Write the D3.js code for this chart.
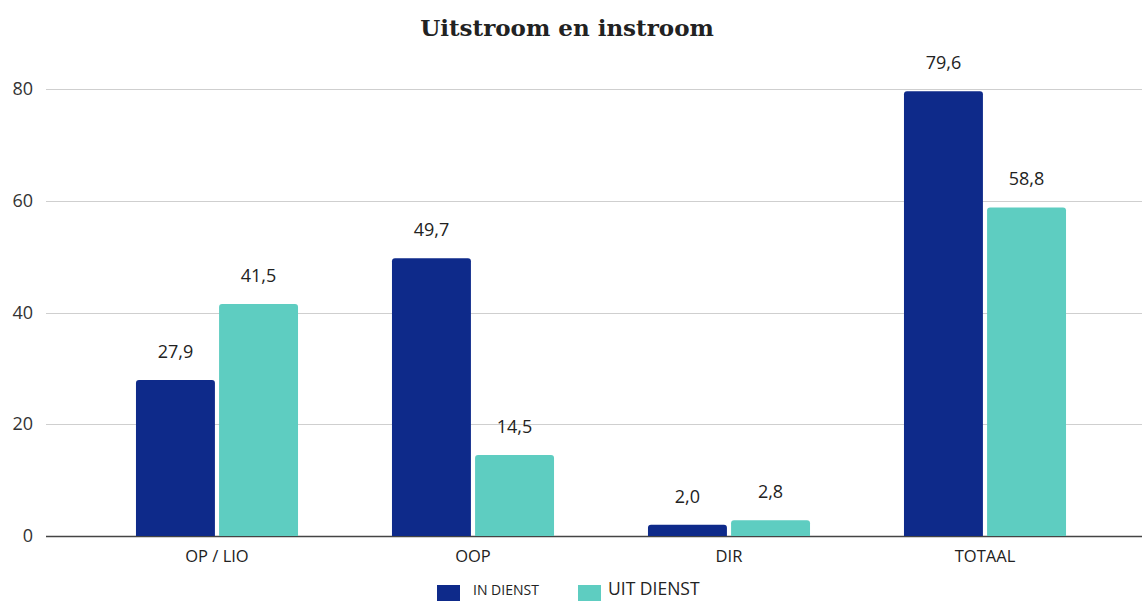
<!DOCTYPE html>
<html lang="nl">
<head>
<meta charset="UTF-8">
<title>Uitstroom en instroom</title>
<script src="https://d3js.org/d3.v7.min.js"></script>
<style>
    body { margin: 0; background: #fff; }
    svg { display: block; }
    .title { font-family: "DejaVu Serif", serif; font-weight: bold; font-size: 23px; fill: #222; }
    .tick-label { font-family: "Open Sans", "Noto Sans", sans-serif; font-size: 18px; fill: #333; }
    .cat-label { font-family: "Open Sans", "Noto Sans", sans-serif; font-size: 16.5px; fill: #222; }
    .value-label { font-family: "Open Sans", "Noto Sans", sans-serif; font-size: 18px; fill: #222; }
</style>
</head>
<body>
<svg width="1142" height="601"></svg>
<script>
    const categories = ["OP / LIO", "OOP", "DIR", "TOTAAL"];
    const seriesNames = ["IN DIENST", "UIT DIENST"];
    const inDienst = [27.9, 49.7, 2.0, 79.6];
    const uitDienst = [41.5, 14.5, 2.8, 58.8];
    const yTicks = [0, 20, 40, 60, 80];
    const colors = ["#0e2a8a", "#5ecdc1"];

    const svg = d3.select("svg");
    const width = +svg.attr("width");

    const y = d3.scaleLinear().domain([0, 80]).range([536, 89]);
    const x0 = d3.scaleBand().domain(categories).range([89, 1113])
        .paddingInner(0.367).paddingOuter(0.1835);
    const x1 = d3.scaleBand().domain(seriesNames).range([0, x0.bandwidth()])
        .paddingInner(0.05);
    const color = d3.scaleOrdinal().domain(seriesNames).range(colors);

    const data = categories.map((c, i) => ({
        cat: c,
        values: [
            {name: seriesNames[0], value: inDienst[i]},
            {name: seriesNames[1], value: uitDienst[i]}
        ]
    }));

    // title
    svg.append("text")
        .attr("class", "title")
        .attr("x", 567)
        .attr("y", 36)
        .attr("text-anchor", "middle")
        .text("Uitstroom en instroom");

    // gridlines + y labels
    const grid = svg.append("g");
    grid.selectAll("line")
        .data(yTicks)
        .enter().append("line")
        .attr("x1", 46)
        .attr("x2", width)
        .attr("y1", d => Math.round(y(d)) + 0.5)
        .attr("y2", d => Math.round(y(d)) + 0.5)
        .attr("stroke", d => d === 0 ? "#444" : "#cfcfcf")
        .attr("stroke-width", d => d === 0 ? 1.3 : 1);

    grid.selectAll("text")
        .data(yTicks)
        .enter().append("text")
        .attr("class", "tick-label")
        .attr("x", 33)
        .attr("y", d => y(d) + 6)
        .attr("text-anchor", "end")
        .text(d => d);

    // bars with rounded top corners
    const roundTop = (x, yTop, w, h, r) => {
        r = Math.min(r, h, w / 2);
        return `M${x},${yTop + h}V${yTop + r}Q${x},${yTop} ${x + r},${yTop}` +
            `H${x + w - r}Q${x + w},${yTop} ${x + w},${yTop + r}V${yTop + h}Z`;
    };

    const groups = svg.append("g").selectAll("g")
        .data(data)
        .enter().append("g")
        .attr("transform", d => `translate(${x0(d.cat)},0)`);

    groups.selectAll("path")
        .data(d => d.values)
        .enter().append("path")
        .attr("d", d => roundTop(x1(d.name), y(d.value), x1.bandwidth(), y(0) - y(d.value), 3))
        .attr("fill", d => color(d.name));

    groups.selectAll("text")
        .data(d => d.values)
        .enter().append("text")
        .attr("class", "value-label")
        .attr("x", d => x1(d.name) + x1.bandwidth() / 2)
        .attr("y", d => y(d.value) - 22)
        .attr("text-anchor", "middle")
        .text(d => d.value.toFixed(1).replace(".", ","));

    // category labels
    svg.append("g").selectAll("text")
        .data(categories)
        .enter().append("text")
        .attr("class", "cat-label")
        .attr("x", d => x0(d) + x0.bandwidth() / 2)
        .attr("y", 562)
        .attr("text-anchor", "middle")
        .text(d => d);

    // legend
    const legendX = [437, 578];
    const legendText = [473, 608];
    const legendSize = [14, 17.5];
    const legend = svg.append("g");
    seriesNames.forEach((s, i) => {
        legend.append("rect")
            .attr("x", legendX[i])
            .attr("y", 585)
            .attr("width", 23)
            .attr("height", 20)
            .attr("fill", color(s));
        legend.append("text")
            .attr("x", legendText[i])
            .attr("y", 595)
            .style("font-family", "'Open Sans', 'Noto Sans', sans-serif")
            .style("font-size", legendSize[i] + "px")
            .style("fill", "#222")
            .text(s);
    });
</script>
</body>
</html>
